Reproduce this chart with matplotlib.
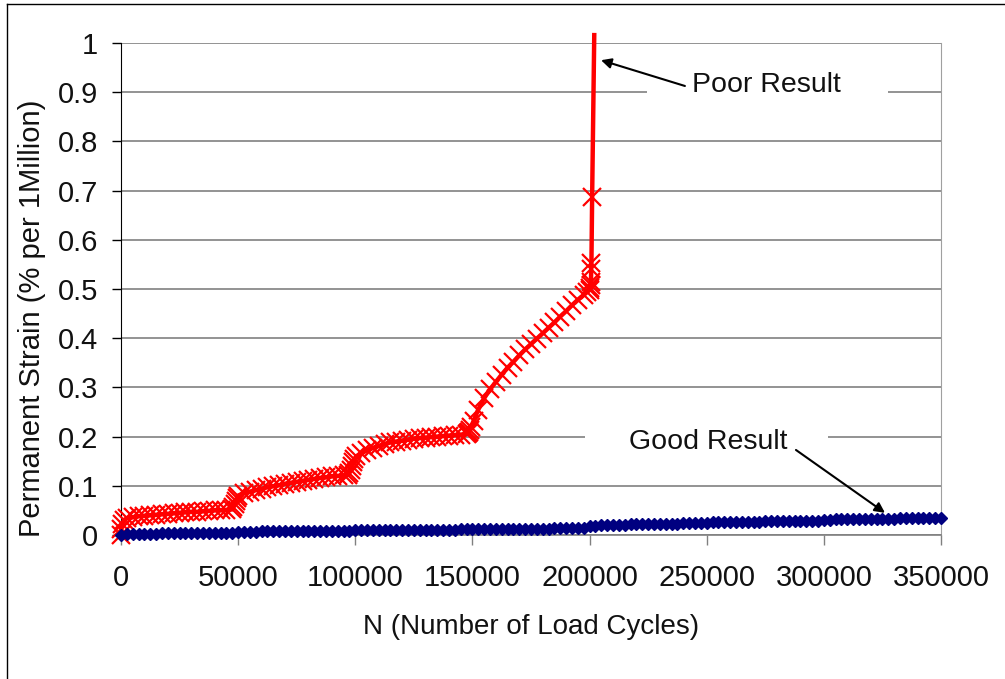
import numpy as np
import matplotlib.pyplot as plt
from matplotlib.patches import Rectangle
from matplotlib.lines import Line2D

plt.rcParams['font.family'] = ['Liberation Sans', 'DejaVu Sans']

# poor result (red) - load cycles and permanent strain
red_n = ([0, 200, 600, 1200] + list(np.arange(2500, 47501, 2500))
         + [48000, 48500, 49000, 49500, 50000]
         + list(np.arange(52500, 95001, 2500)) + [97000]
         + [97500, 98000, 98500, 99000, 99500, 100500, 102500]
         + list(np.arange(105000, 147501, 2500))
         + [148000, 148500, 149000, 149500, 150500, 152500]
         + list(np.arange(155000, 197501, 2500)) + [199000, 200000]
         + [200400, 200500, 200600, 200700, 200800, 201100, 202000])
red_strain = [0.000, 0.012, 0.022, 0.030, 0.034, 0.036, 0.038, 0.039, 0.040, 0.041,
              0.042, 0.043, 0.044, 0.045, 0.046, 0.047, 0.047, 0.048, 0.049, 0.050,
              0.050, 0.051, 0.052,
              0.056, 0.062, 0.069, 0.075, 0.080,
              0.085, 0.088, 0.091, 0.094, 0.097, 0.099, 0.101, 0.104, 0.106, 0.108,
              0.110, 0.112, 0.114, 0.116, 0.117, 0.119, 0.120, 0.121, 0.122,
              0.126, 0.132, 0.140, 0.148, 0.154, 0.160, 0.166,
              0.172, 0.177, 0.181, 0.185, 0.188, 0.190, 0.192, 0.194, 0.196, 0.197,
              0.198, 0.199, 0.200, 0.201, 0.202, 0.203, 0.204, 0.205,
              0.207, 0.210, 0.214, 0.220, 0.232, 0.255,
              0.278, 0.296, 0.311, 0.326, 0.340, 0.352, 0.365, 0.377, 0.388, 0.399,
              0.410, 0.421, 0.432, 0.444, 0.455, 0.467, 0.478, 0.488, 0.494, 0.498,
              0.502, 0.508, 0.515, 0.540, 0.553, 0.687, 1.016]

# good result (blue)
blue_n = np.arange(0, 350001, 2500)
blue_strain = [
    0.000, 0.002, 0.002, 0.003, 0.003, 0.003, 0.003, 0.004, 0.004, 0.004,
    0.004, 0.004, 0.004, 0.005, 0.005, 0.005, 0.005, 0.005, 0.005, 0.005,
    0.007, 0.007, 0.007, 0.007, 0.008, 0.008, 0.008, 0.008, 0.008, 0.008,
    0.008, 0.008, 0.009, 0.009, 0.009, 0.009, 0.009, 0.009, 0.009, 0.009,
    0.010, 0.010, 0.010, 0.010, 0.010, 0.010, 0.010, 0.011, 0.011, 0.011,
    0.011, 0.011, 0.011, 0.011, 0.011, 0.011, 0.011, 0.011, 0.012, 0.012,
    0.012, 0.012, 0.012, 0.012, 0.012, 0.013, 0.013, 0.013, 0.013, 0.013,
    0.013, 0.013, 0.013, 0.013, 0.014, 0.014, 0.014, 0.014, 0.014, 0.014,
    0.018, 0.019, 0.020, 0.020, 0.021, 0.021, 0.021, 0.022, 0.022, 0.022,
    0.022, 0.023, 0.023, 0.023, 0.023, 0.023, 0.024, 0.024, 0.024, 0.024,
    0.025, 0.026, 0.026, 0.026, 0.026, 0.027, 0.027, 0.027, 0.027, 0.027,
    0.028, 0.028, 0.028, 0.028, 0.028, 0.028, 0.029, 0.029, 0.029, 0.029,
    0.031, 0.031, 0.032, 0.032, 0.032, 0.032, 0.033, 0.033, 0.033, 0.033,
    0.033, 0.033, 0.033, 0.034, 0.034, 0.034, 0.034, 0.034, 0.034, 0.034,
    0.034]

x_ticks = [0, 50000, 100000, 150000, 200000, 250000, 300000, 350000]
y_ticks = [0, 0.1, 0.2, 0.3, 0.4, 0.5, 0.6, 0.7, 0.8, 0.9, 1]

fig = plt.figure(figsize=(10.05, 6.79), dpi=100)
ax = fig.add_axes([0.1204, 0.2121, 0.8159, 0.7246])

# outer frame (left and top only)
fig.add_artist(Line2D([0.007, 0.007], [0, 0.9935], color='black', lw=1, transform=fig.transFigure))
fig.add_artist(Line2D([0.007, 1.0], [0.9935, 0.9935], color='black', lw=1, transform=fig.transFigure))

ax.set_axisbelow(True)
ax.grid(axis='y', color='#808080', lw=1.2)

# red line drawn past the top, markers on all but the last point
ax.plot(red_n, red_strain, color='#ff0000', lw=3.2, clip_on=False, zorder=3)
ax.plot(red_n[:-1], red_strain[:-1], ls='none', marker='x', ms=13, mew=1.6,
        color='#ff0000', clip_on=False, zorder=3)
ax.plot(blue_n, blue_strain, color='#000080', lw=2, marker='D', ms=6,
        mew=1, clip_on=False, zorder=4)

# white boxes behind the labels hide the gridlines
ax.add_patch(Rectangle((224500, 0.87), 102900, 0.06, facecolor='white', edgecolor='none', zorder=1))
ax.add_patch(Rectangle((198000, 0.17), 103800, 0.06, facecolor='white', edgecolor='none', zorder=1))

ax.text(275700, 0.915, 'Poor Result', fontsize=20.5, ha='center', va='center', color='#111111', zorder=5)
ax.text(250500, 0.19, 'Good Result', fontsize=20.5, ha='center', va='center', color='#111111', zorder=5)
ax.annotate('', xy=(204900, 0.965), xytext=(240700, 0.9126),
            arrowprops=dict(arrowstyle='-|>', color='black', lw=1.5, mutation_scale=15,
                            shrinkA=0, shrinkB=0), zorder=5)
ax.annotate('', xy=(326100, 0.045), xytext=(288100, 0.1728),
            arrowprops=dict(arrowstyle='-|>', color='black', lw=1.5, mutation_scale=15,
                            shrinkA=0, shrinkB=0), zorder=5)

ax.set_xlim(0, 350000)
ax.set_ylim(0, 1)
ax.set_xticks(x_ticks)
ax.set_xticklabels([str(v) for v in x_ticks])
ax.set_yticks(y_ticks)
ax.set_yticklabels(['%g' % v for v in y_ticks])
ax.tick_params(axis='both', labelsize=21, labelcolor='#111111')
ax.tick_params(axis='y', length=6.5, width=1, color='black', pad=10)
ax.tick_params(axis='x', length=7, width=1, color='#808080', pad=14)

ax.spines['top'].set_visible(False)
ax.spines['left'].set_color('black')
ax.spines['bottom'].set_color('#808080')
ax.spines['bottom'].set_linewidth(1.2)
ax.spines['right'].set_color('#a0a0a0')

ax.set_xlabel('N (Number of Load Cycles)', fontsize=20, color='#111111', va='center')
ax.xaxis.set_label_coords(0.5, -0.187)
ax.set_ylabel('Permanent Strain (% per 1Million)', fontsize=21, color='#111111', va='center')
ax.yaxis.set_label_coords(-0.1085, 0.441)

fig.savefig('out.png', dpi=100)
